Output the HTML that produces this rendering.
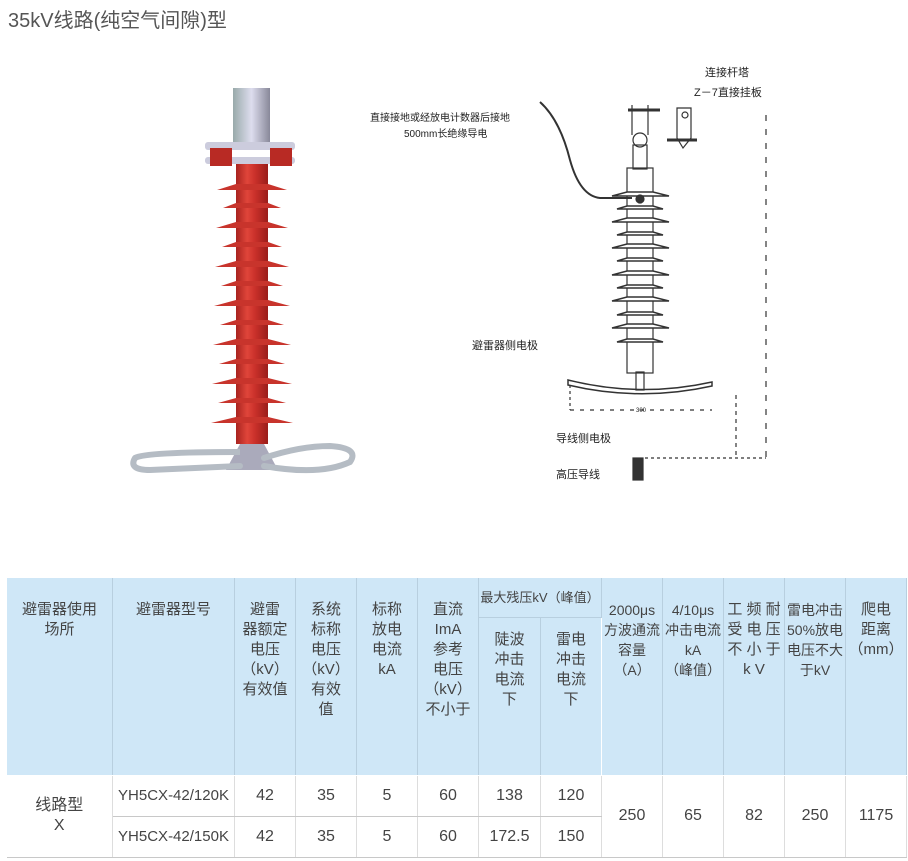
<!DOCTYPE html>
<html><head><meta charset="utf-8"><style>
body{margin:0;width:908px;height:861px;background:#fff;position:relative;overflow:hidden;font-family:"Liberation Sans","Noto Sans CJK SC",sans-serif;}
.t{position:absolute;left:8px;top:4px;font-size:20px;color:#555;}
svg{position:absolute;left:0;top:0}
table{position:absolute;left:6px;top:578px;width:900px;border-collapse:collapse;table-layout:fixed;color:#444;font-size:15px;}
td{border:1px solid #9ab;border-top:none;text-align:center;padding:0;line-height:20px;}
thead td{background:#cfe7f7;vertical-align:top;border-color:#fff;border-right:1px solid #b8cfdf;}
tbody td{border-color:#c8c8c8;border-left:none;border-right:1px solid #ddd;font-size:16px;}
</style></head><body>
<div class="t">35kV线路(纯空气间隙)型</div>
<svg width="908" height="570" viewBox="0 0 908 570">
<defs>
<linearGradient id="r" x1="0" x2="1"><stop offset="0" stop-color="#a8231f"/><stop offset=".35" stop-color="#e0453a"/><stop offset=".6" stop-color="#c9302a"/><stop offset="1" stop-color="#9a1d1a"/></linearGradient>
<linearGradient id="m" x1="0" x2="1"><stop offset="0" stop-color="#9aa"/><stop offset=".5" stop-color="#dde"/><stop offset="1" stop-color="#889"/></linearGradient>
</defs>
<rect x="233" y="88" width="37" height="62" fill="url(#m)"/>
<rect x="205" y="142" width="90" height="8" rx="3" fill="#ccd"/>
<rect x="205" y="157" width="90" height="7" rx="3" fill="#ccd"/>
<rect x="210" y="148" width="22" height="18" fill="#b82a24"/><rect x="270" y="148" width="22" height="18" fill="#b82a24"/>
<rect x="236" y="164" width="32" height="280" fill="url(#r)"/>
<g fill="#c8342c">
<path d="M217 190 L287 190 L268 184 L236 184Z"/><path d="M223 208 L281 208 L268 203 L236 203Z"/>
<path d="M216 228 L288 228 L268 222 L236 222Z"/><path d="M222 247 L282 247 L268 242 L236 242Z"/>
<path d="M215 267 L289 267 L268 261 L236 261Z"/><path d="M221 286 L283 286 L268 281 L236 281Z"/>
<path d="M214 306 L290 306 L268 300 L236 300Z"/><path d="M220 325 L284 325 L268 320 L236 320Z"/>
<path d="M213 345 L291 345 L268 339 L236 339Z"/><path d="M219 364 L285 364 L268 359 L236 359Z"/>
<path d="M212 384 L292 384 L268 378 L236 378Z"/><path d="M218 403 L286 403 L268 398 L236 398Z"/>
<path d="M211 423 L293 423 L268 417 L236 417Z"/>
</g>
<path d="M240 444 L226 470 L278 470 L264 444Z" fill="#aab"/>
<path d="M135 458 Q128 470 150 470 L240 466 M264 466 Q320 476 350 462 Q360 448 330 446 Q300 446 264 458" fill="none" stroke="#b5bcc4" stroke-width="6" stroke-linecap="round"/>
<path d="M135 458 Q145 452 240 452" fill="none" stroke="#b5bcc4" stroke-width="6"/>
<g stroke="#333" fill="none" stroke-width="1.2">
<rect x="627" y="168" width="26" height="205" fill="#fff"/>
<rect x="633" y="145" width="14" height="24"/>
<circle cx="640" cy="140" r="7"/><line x1="632" y1="105" x2="632" y2="135"/><line x1="648" y1="105" x2="648" y2="135"/>
<line x1="628" y1="110" x2="660" y2="110" stroke-width="3"/>
<path d="M677 108 h14 v30 l-8 10 -6 -10z"/><circle cx="685" cy="115" r="3"/>
<line x1="667" y1="140" x2="697" y2="140" stroke-width="3"/>
<g stroke-width="1.5" fill="#fff">
<path d="M612 196 L669 196 L653 192 L627 192Z"/><path d="M617 209 L663 209 L653 206 L627 206Z"/>
<path d="M612 222 L669 222 L653 218 L627 218Z"/><path d="M617 235 L663 235 L653 232 L627 232Z"/>
<path d="M612 248 L669 248 L653 244 L627 244Z"/><path d="M617 261 L663 261 L653 258 L627 258Z"/>
<path d="M612 275 L669 275 L653 271 L627 271Z"/><path d="M617 288 L663 288 L653 285 L627 285Z"/>
<path d="M612 301 L669 301 L653 297 L627 297Z"/><path d="M617 315 L663 315 L653 312 L627 312Z"/>
<path d="M612 328 L669 328 L653 324 L627 324Z"/><path d="M617 342 L663 342 L653 339 L627 339Z"/>
</g>
<path d="M540 102 Q560 120 570 160 Q580 196 600 198 L632 198" stroke-width="2"/>
<circle cx="640" cy="199" r="4" fill="#333"/>
<rect x="636" y="372" width="8" height="18"/>
<path d="M568 380 Q640 398 712 382 L712 386 Q640 402 568 385Z" stroke-width="1.5"/>
<line x1="766" y1="115" x2="766" y2="458" stroke-dasharray="6 8"/>
<line x1="570" y1="410" x2="712" y2="410" stroke-dasharray="4 6"/>
<line x1="570" y1="385" x2="570" y2="410" stroke-dasharray="3 3"/>
<line x1="736" y1="395" x2="736" y2="458" stroke-dasharray="4 4"/>
<line x1="645" y1="458" x2="766" y2="458" stroke-dasharray="3 3"/>
<rect x="633" y="458" width="10" height="22" fill="#333"/>
</g>
<g font-size="10" fill="#222">
<text x="370" y="121">直接接地或经放电计数器后接地</text>
<text x="404" y="137">500mm长绝缘导电</text>
<text x="705" y="76" font-size="11">连接杆塔</text>
<text x="694" y="96" font-size="11">Z－7直接挂板</text>
<text x="472" y="349" font-size="11">避雷器侧电极</text>
<text x="556" y="442" font-size="11">导线侧电极</text>
<text x="556" y="478" font-size="11">高压导线</text>
<text x="636" y="412" font-size="6">300</text>
</g>
</svg>
<table>
<colgroup><col style="width:106px"><col style="width:122px"><col style="width:61px"><col style="width:61px"><col style="width:61px"><col style="width:61px"><col style="width:62px"><col style="width:61px"><col style="width:61px"><col style="width:61px"><col style="width:61px"><col style="width:61px"><col style="width:61px"></colgroup>
<thead>
<tr style="height:39px"><td rowspan="2" style="padding-top:22px">避雷器使用<br>场所</td><td rowspan="2" style="padding-top:22px">避雷器型号</td><td rowspan="2" style="padding-top:22px">避雷<br>器额定<br>电压<br>（kV）<br>有效值</td><td rowspan="2" style="padding-top:22px">系统<br>标称<br>电压<br>（kV）<br>有效<br>值</td><td rowspan="2" style="padding-top:22px">标称<br>放电<br>电流<br>kA</td><td rowspan="2" style="padding-top:22px">直流<br>ImA<br>参考<br>电压<br>（kV）<br>不小于</td><td colspan="2" style="padding-top:10px;font-size:13px;border-bottom:1px solid #b8cfdf">最大残压kV（峰值）</td><td rowspan="2" style="padding-top:22px;font-size:14px">2000μs<br>方波通流<br>容量<br>（A）</td><td rowspan="2" style="padding-top:22px;font-size:14px">4/10μs<br>冲击电流<br>kA<br>（峰值）</td><td rowspan="2" style="padding-top:22px">工 频 耐<br>受 电 压<br>不 小 于<br>k V</td><td rowspan="2" style="padding-top:22px;font-size:14px">雷电冲击<br>50%放电<br>电压不大<br>于kV</td><td rowspan="2" style="padding-top:22px">爬电<br>距离<br>（mm）</td></tr>
<tr style="height:158px"><td style="padding-top:12px">陡波<br>冲击<br>电流<br>下</td><td style="padding-top:12px">雷电<br>冲击<br>电流<br>下</td></tr>
</thead>
<tbody>
<tr style="height:41px"><td rowspan="2">线路型<br>X</td><td style="font-size:15px">YH5CX-42/120K</td><td>42</td><td>35</td><td>5</td><td>60</td><td>138</td><td>120</td><td rowspan="2">250</td><td rowspan="2">65</td><td rowspan="2">82</td><td rowspan="2">250</td><td rowspan="2">1175</td></tr>
<tr style="height:41px"><td style="font-size:15px">YH5CX-42/150K</td><td>42</td><td>35</td><td>5</td><td>60</td><td>172.5</td><td>150</td></tr>
</tbody>
</table>
</body></html>
